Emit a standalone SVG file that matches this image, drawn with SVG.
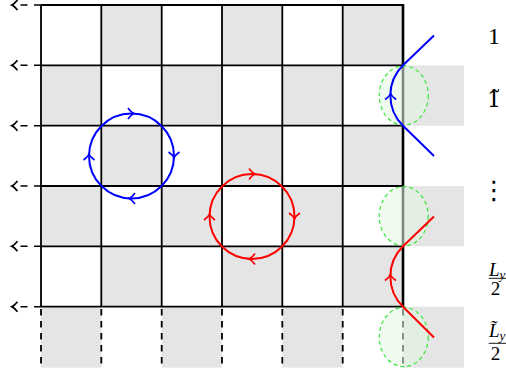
<svg xmlns="http://www.w3.org/2000/svg" width="506" height="376" viewBox="0 0 506 376">
<style>
.sh{fill:#e5e5e5}
.gl{stroke:#000;stroke-width:1.8;fill:none}
.dl{stroke:#000;stroke-width:1.8;fill:none;stroke-dasharray:6.5 5.5}
.la{stroke:#000;stroke-width:1.5;fill:none;stroke-dasharray:7 6.5}
.ell{fill:#e4f7e2;fill-opacity:0.55;stroke:#2ee52e;stroke-width:1.1;stroke-dasharray:4 3}
.bl{stroke:#0000ff;stroke-width:2;fill:none}
.rd{stroke:#ff0000;stroke-width:2;fill:none}
.ab{stroke:#0000ff;stroke-width:1.6;fill:none}
.ar{stroke:#ff0000;stroke-width:1.6;fill:none}
.t{font-family:"Liberation Serif",serif;fill:#000}
.ti{font-family:"Liberation Serif",serif;font-style:italic;fill:#000}
</style>
<defs>
<marker id="chev" markerUnits="userSpaceOnUse" markerWidth="14" markerHeight="14" viewBox="-7 -7 14 14" refX="0" refY="0" orient="auto">
<path d="M -4.5 -5 Q -1.3 -1 1.2 0 Q -1.3 1 -4.5 5" fill="none" stroke="#000" stroke-width="1.7"/>
</marker>
<path id="ah" d="M -5 -5.5 Q -1.8 -1 1 0 Q -1.8 1 -5 5.5"/>
</defs>

<g id="shading">
<rect class="sh" x="101.3" y="5" width="60.4" height="60.3"/>
<rect class="sh" x="222" y="5" width="60.3" height="60.3"/>
<rect class="sh" x="342.7" y="5" width="60.3" height="60.3"/>
<rect class="sh" x="41" y="65.3" width="60.3" height="60.4"/>
<rect class="sh" x="161.7" y="65.3" width="60.3" height="60.4"/>
<rect class="sh" x="282.3" y="65.3" width="60.4" height="60.4"/>
<rect class="sh" x="101.3" y="125.7" width="60.4" height="60.3"/>
<rect class="sh" x="222" y="125.7" width="60.3" height="60.3"/>
<rect class="sh" x="342.7" y="125.7" width="60.3" height="60.3"/>
<rect class="sh" x="41" y="186" width="60.3" height="60.3"/>
<rect class="sh" x="161.7" y="186" width="60.3" height="60.3"/>
<rect class="sh" x="282.3" y="186" width="60.4" height="60.3"/>
<rect class="sh" x="101.3" y="246.3" width="60.4" height="60.4"/>
<rect class="sh" x="222" y="246.3" width="60.3" height="60.4"/>
<rect class="sh" x="342.7" y="246.3" width="60.3" height="60.4"/>
<rect class="sh" x="41" y="306.7" width="60.3" height="61"/>
<rect class="sh" x="161.7" y="306.7" width="60.3" height="61"/>
<rect class="sh" x="282.3" y="306.7" width="60.4" height="61"/>
<rect class="sh" x="403" y="65.3" width="61" height="60.4"/>
<rect class="sh" x="403" y="186" width="61" height="60.3"/>
<rect class="sh" x="403" y="306.7" width="61" height="61"/>
</g>

<g id="grid">
<path class="gl" d="M41 5H403M41 65.3H403M41 125.7H403M41 186H403M41 246.3H403M41 306.7H403"/>
<path class="gl" d="M41 5V306.7M101.3 5V306.7M161.7 5V306.7M222 5V306.7M282.3 5V306.7M342.7 5V306.7"/>
<path class="dl" d="M41 309V368M101.3 309V368M161.7 309V368M222 309V368M282.3 309V368M342.7 309V368M403 309V368"/>
<path stroke="#000" stroke-width="2.6" fill="none" d="M403 4V307.5"/>
</g>

<g id="left-arrows">
<path class="la" marker-end="url(#chev)" d="M41 5H13"/>
<path class="la" marker-end="url(#chev)" d="M41 65.3H13"/>
<path class="la" marker-end="url(#chev)" d="M41 125.7H13"/>
<path class="la" marker-end="url(#chev)" d="M41 186H13"/>
<path class="la" marker-end="url(#chev)" d="M41 246.3H13"/>
<path class="la" marker-end="url(#chev)" d="M41 306.7H13"/>
</g>

<g id="ellipses">
<ellipse class="ell" cx="403.7" cy="95.5" rx="24.5" ry="29.6"/>
<ellipse class="ell" cx="403.7" cy="216.2" rx="24.5" ry="29.6"/>
<ellipse class="ell" cx="403.7" cy="337" rx="24.5" ry="29.6"/>
</g>

<g id="blue-loop">
<circle class="bl" cx="131.5" cy="156" r="42.5"/>
<use href="#ah" class="ab" transform="translate(133 113.5)"/>
<use href="#ah" class="ab" transform="translate(174 157) rotate(90)"/>
<use href="#ah" class="ab" transform="translate(130 198.5) rotate(180)"/>
<use href="#ah" class="ab" transform="translate(89 155) rotate(-90)"/>
</g>

<g id="red-loop">
<circle class="rd" cx="252" cy="216.5" r="42.5"/>
<use href="#ah" class="ar" transform="translate(254 174)"/>
<use href="#ah" class="ar" transform="translate(294.5 218) rotate(90)"/>
<use href="#ah" class="ar" transform="translate(250 259) rotate(180)"/>
<use href="#ah" class="ar" transform="translate(209.5 215) rotate(-90)"/>
</g>

<g id="connectors">
<path class="bl" d="M434 35.5L403 65.3A42.4 42.4 0 0 0 403 125.7L434 156"/>
<use href="#ah" class="ab" transform="translate(390.6 94.5) rotate(-90)"/>
<path class="rd" d="M434 216.5L403 246.3A42.4 42.4 0 0 0 403 306.7L434 337.5"/>
<use href="#ah" class="ar" transform="translate(390.4 275.5) rotate(-90)"/>
</g>

<g id="labels">
<text class="t" x="494" y="43.5" font-size="24" text-anchor="middle">1</text>
<text x="494" y="106.5" font-size="22" text-anchor="middle" font-family="DejaVu Serif, serif" font-weight="300">1̃</text>
<text x="494" y="199" font-size="26" text-anchor="middle" font-family="DejaVu Sans, sans-serif">⋮</text>
<text class="ti" x="489" y="276" font-size="19">L<tspan font-size="13" dy="2.5">y</tspan></text>
<path stroke="#000" stroke-width="0.9" d="M488.7 278.3H506"/>
<text class="t" x="495.5" y="295" font-size="19" text-anchor="middle">2</text>
<text class="ti" x="489" y="337" font-size="19">L̃<tspan font-size="13" dy="2.5">y</tspan></text>
<path stroke="#000" stroke-width="0.9" d="M488.7 343.3H506"/>
<text class="t" x="495.5" y="360" font-size="19" text-anchor="middle">2</text>
</g>
</svg>
